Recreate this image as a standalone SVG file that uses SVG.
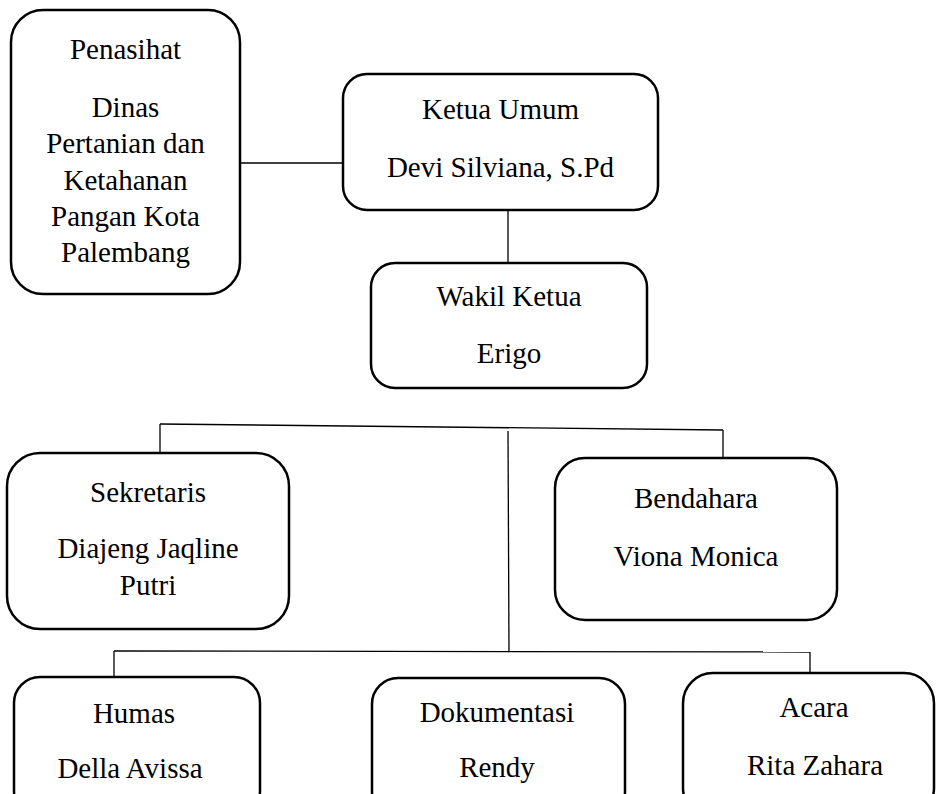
<svg xmlns="http://www.w3.org/2000/svg" width="936" height="794" viewBox="0 0 936 794">
<style>
.box{fill:#fff;stroke:#000;stroke-width:2.5}
.ln{stroke:#000;stroke-width:1.3;fill:none}
text{font-family:"Liberation Serif","Times New Roman",serif;font-size:29px;fill:#000;text-anchor:middle}
</style>
<rect width="936" height="794" fill="#fff"/>
<g id="connectors">
<line class="ln" x1="240" y1="163" x2="343" y2="163"/>
<line class="ln" x1="508" y1="210" x2="508" y2="263"/>
<line class="ln" x1="160" y1="424" x2="723" y2="430"/>
<line class="ln" x1="160" y1="424" x2="160" y2="453"/>
<line class="ln" x1="723" y1="430" x2="723" y2="458"/>
<line class="ln" x1="508" y1="431" x2="509" y2="651"/>
<line class="ln" x1="114" y1="651" x2="810" y2="652"/>
<line class="ln" x1="114" y1="651" x2="114" y2="677"/>
<line class="ln" x1="810" y1="652" x2="810" y2="673"/>
</g>
<g id="penasihat">
<rect class="box" x="11" y="10" width="229" height="284" rx="32"/>
<text x="125.5" y="59">Penasihat</text>
<text x="125.5" y="117">Dinas</text>
<text x="125.5" y="153">Pertanian dan</text>
<text x="125.5" y="190">Ketahanan</text>
<text x="125.5" y="226">Pangan Kota</text>
<text x="125.5" y="262">Palembang</text>
</g>
<g id="ketua">
<rect class="box" x="343" y="74" width="315" height="136" rx="24"/>
<text x="500.5" y="119">Ketua Umum</text>
<text x="500.5" y="177">Devi Silviana, S.Pd</text>
</g>
<g id="wakil">
<rect class="box" x="371" y="263" width="276" height="125" rx="24"/>
<text x="509" y="306">Wakil Ketua</text>
<text x="509" y="363">Erigo</text>
</g>
<g id="sekretaris">
<rect class="box" x="7" y="453" width="282" height="176" rx="33"/>
<text x="148" y="502">Sekretaris</text>
<text x="148" y="558">Diajeng Jaqline</text>
<text x="148" y="595">Putri</text>
</g>
<g id="bendahara">
<rect class="box" x="555" y="458" width="282" height="162" rx="30"/>
<text x="696" y="508">Bendahara</text>
<text x="696" y="566">Viona Monica</text>
</g>
<g id="humas">
<rect class="box" x="14" y="677" width="246" height="140" rx="26"/>
<text x="134" y="723">Humas</text>
<text x="130" y="778">Della Avissa</text>
</g>
<g id="dokumentasi">
<rect class="box" x="372" y="678" width="253" height="140" rx="26"/>
<text x="497" y="722">Dokumentasi</text>
<text x="497" y="777">Rendy</text>
</g>
<g id="acara">
<rect class="box" x="683" y="673" width="251" height="145" rx="30"/>
<text x="814" y="717">Acara</text>
<text x="815" y="775">Rita Zahara</text>
</g>
</svg>
